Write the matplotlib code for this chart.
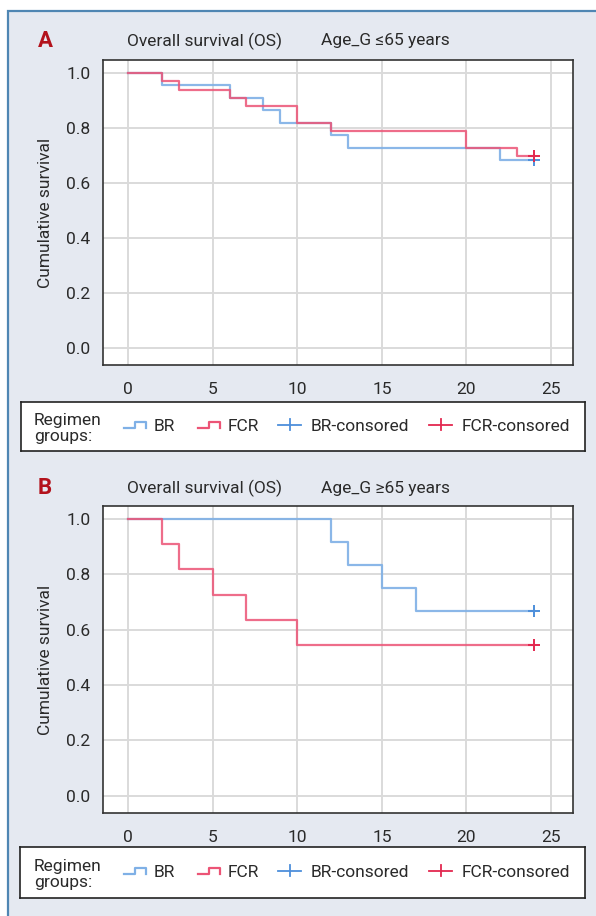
"""Kaplan-Meier overall survival by regimen (BR vs FCR), two age groups."""

import matplotlib
matplotlib.use('Agg')
import matplotlib.pyplot as plt
from matplotlib.patches import Rectangle

plt.rcParams['font.family'] = ['Roboto', 'DejaVu Sans']

# survival steps (time in months, cumulative survival)
a_br_t = [0, 2, 6, 8, 9, 12, 13, 22, 24]
a_br_s = [1.0, 0.955, 0.909, 0.864, 0.818, 0.773, 0.727, 0.682, 0.682]
a_fcr_t = [0, 2, 3, 6, 7, 10, 12, 20, 23, 24]
a_fcr_s = [1.0, 0.970, 0.939, 0.909, 0.879, 0.818, 0.788, 0.727, 0.697, 0.697]

b_br_t = [0, 12, 13, 15, 17, 24]
b_br_s = [1.0, 0.917, 0.833, 0.750, 0.667, 0.667]
b_fcr_t = [0, 2, 3, 5, 7, 10, 24]
b_fcr_s = [1.0, 0.909, 0.818, 0.727, 0.636, 0.545, 0.545]

x_ticks = [0, 5, 10, 15, 20, 25]
y_ticks = [0.0, 0.2, 0.4, 0.6, 0.8, 1.0]
legend_labels = ['BR', 'FCR', 'BR-consored', 'FCR-consored']

BLUE = '#7fb0e6'
RED = '#ec5476'
BLUE_M = '#4d8fdb'
RED_M = '#e3284f'
LETTER = '#b3121c'
BG = '#e5e9f1'
TXT = '#2a2a2a'
FS = 12.5

W, H = 596, 916
fig = plt.figure(figsize=(W / 100, H / 100), dpi=100)
fig.patch.set_facecolor('white')
fig.patches.append(Rectangle((8 / W, -0.05), 1.2, 1 - 11 / H + 0.05,
                             transform=fig.transFigure, facecolor=BG,
                             edgecolor='#4f86b3', lw=1.6, zorder=-10))


def px_box(x0, y0, x1, y1):
    return [x0 / W, 1 - y1 / H, (x1 - x0) / W, (y1 - y0) / H]


def km_panel(rect, br_t, br_s, fcr_t, fcr_s):
    ax = fig.add_axes(px_box(*rect))
    ax.set_facecolor('white')
    ax.grid(True, color='#dadada', lw=1.4)
    ax.set_axisbelow(True)
    ax.step(br_t, br_s, where='post', color=BLUE, lw=1.6, alpha=0.9)
    ax.step(fcr_t, fcr_s, where='post', color=RED, lw=1.6, alpha=0.85)
    ax.plot(br_t[-1], br_s[-1], '+', color=BLUE_M, ms=8, mew=1.4)
    ax.plot(fcr_t[-1], fcr_s[-1], '+', color=RED_M, ms=8, mew=1.4)
    ax.set_xlim(-1.48, 26.3)
    ax.set_ylim(-0.062, 1.047)
    ax.set_xticks(x_ticks)
    ax.set_yticks(y_ticks)
    ax.set_yticklabels([f'{v:.1f}' for v in y_ticks])
    ax.tick_params(length=0, labelsize=FS, colors=TXT)
    ax.tick_params(axis='x', pad=12)
    ax.tick_params(axis='y', pad=9)
    for sp in ax.spines.values():
        sp.set_color('#333333')
        sp.set_linewidth(1.2)
    ax.set_ylabel('Cumulative survival', fontsize=FS, color=TXT)
    ax.yaxis.set_label_coords(-0.107, 0.5)
    return ax


def title_row(y, letter, age):
    fig.text(38 / W, 1 - y / H, letter, color=LETTER, fontsize=16,
             fontweight='bold', va='center')
    fig.text(127 / W, 1 - y / H, 'Overall survival (OS)', fontsize=FS,
             color=TXT, va='center')
    fig.text(321 / W, 1 - y / H, age, fontsize=FS, color=TXT,
             va='center')


def legend_box(rect):
    x0, y0, x1, y1 = rect
    lg = fig.add_axes(px_box(*rect))
    lg.set_xlim(x0, x1)
    lg.set_ylim(y1, y0)
    lg.set_xticks([])
    lg.set_yticks([])
    lg.set_facecolor('white')
    for sp in lg.spines.values():
        sp.set_color('#222222')
        sp.set_linewidth(1.2)
    ym = (y0 + y1) / 2
    lg.text(34, ym + 2, 'Regimen\ngroups:', fontsize=FS, va='center',
            linespacing=1.05, color=TXT)
    # step icons
    for xs, col, lab in [(124, BLUE, legend_labels[0]), (198, RED, legend_labels[1])]:
        lg.plot([xs, xs + 11, xs + 11, xs + 22, xs + 22],
                [ym + 2, ym + 2, ym - 4, ym - 4, ym + 1.5], color=col, lw=1.6)
        lg.text(xs + 30, ym, lab, fontsize=FS, va='center', color=TXT)
    # censor icons
    for xs, col, lab in [(278, BLUE_M, legend_labels[2]), (429, RED_M, legend_labels[3])]:
        lg.plot([xs, xs + 23], [ym - 1.5, ym - 1.5], color=col, lw=1.3)
        lg.plot([xs + 11.5, xs + 11.5], [ym - 7, ym + 4], color=col, lw=1.3)
        lg.text(xs + 33, ym, lab, fontsize=FS, va='center', color=TXT)


title_row(41, 'A', 'Age_G ≤65 years')
km_panel((103, 60, 573, 365), a_br_t, a_br_s, a_fcr_t, a_fcr_s)
legend_box((21, 402, 585, 451))

title_row(488, 'B', 'Age_G ≥65 years')
km_panel((103, 506, 573, 813), b_br_t, b_br_s, b_fcr_t, b_fcr_s)
legend_box((20, 847, 585, 898))

fig.savefig('out.png', dpi=100, facecolor=fig.get_facecolor())
